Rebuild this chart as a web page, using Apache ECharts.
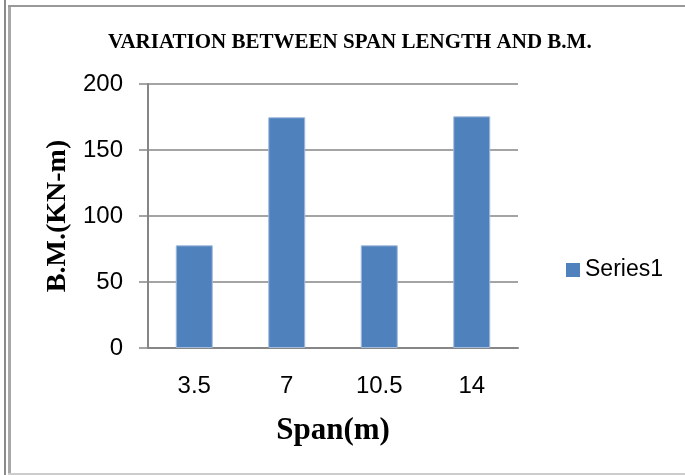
<!DOCTYPE html>
<html>
<head>
<meta charset="utf-8">
<script src="https://cdn.jsdelivr.net/npm/echarts@6/dist/echarts.min.js"></script>
<style>
html,body{margin:0;padding:0;background:#fff;}
#c{width:685px;height:475px;}
</style>
</head>
<body>
<div id="c"></div>
<script>
var categories = ['3.5', '7', '10.5', '14'];
var series1 = [77.8, 174.8, 77.8, 175.5];
var yTicks = [0, 50, 100, 150, 200];
var titleText = 'VARIATION BETWEEN SPAN LENGTH AND B.M.';
var xName = 'Span(m)';
var yName = 'B.M.(KN-m)';
var seriesName = 'Series1';

var narrow = "'Liberation Sans Narrow', 'Arial Narrow', 'Liberation Sans', sans-serif";
var serif = "'Liberation Serif', 'Times New Roman', serif";

var chart = echarts.init(document.getElementById('c'), null, {renderer: 'canvas'});
chart.setOption({
  animation: false,
  backgroundColor: '#ffffff',
  title: {
    text: titleText,
    left: 103,
    top: 27,
    textStyle: {fontFamily: serif, fontWeight: 'bold', fontSize: 21, color: '#000'}
  },
  legend: {
    data: [seriesName],
    left: 561,
    top: 252,
    icon: 'rect',
    itemWidth: 14,
    itemHeight: 14,
    itemStyle: {borderWidth: 0},
    textStyle: {fontFamily: narrow, fontSize: 23, color: '#000', lineHeight: 26}
  },
  grid: {left: 148, right: 167, top: 84, bottom: 127, containLabel: false},
  xAxis: {
    type: 'category',
    data: categories,
    name: xName,
    nameLocation: 'middle',
    nameGap: 67,
    nameTextStyle: {fontFamily: serif, fontWeight: 'bold', fontSize: 31, color: '#000'},
    axisLine: {lineStyle: {color: '#868686', width: 2}},
    axisTick: {show: false},
    axisLabel: {fontFamily: narrow, fontSize: 24, color: '#000', margin: 26}
  },
  yAxis: {
    type: 'value',
    min: yTicks[0],
    max: yTicks[yTicks.length - 1],
    interval: 50,
    name: yName,
    nameLocation: 'middle',
    nameRotate: 90,
    nameGap: 75,
    nameTextStyle: {fontFamily: serif, fontWeight: 'bold', fontSize: 28, color: '#000'},
    axisLine: {show: true, lineStyle: {color: '#868686', width: 2}},
    axisTick: {show: true, inside: false, length: 9, lineStyle: {color: '#868686', width: 1.5}},
    axisLabel: {fontFamily: narrow, fontSize: 24, color: '#000', margin: 25},
    splitLine: {show: true, lineStyle: {color: '#868686', width: 1.5}}
  },
  series: [{
    name: seriesName,
    type: 'bar',
    data: series1,
    barCategoryGap: '60%',
    itemStyle: {color: '#4F81BD', borderColor: '#a3bbdd', borderWidth: 1}
  }],
  graphic: [
    {type: 'rect', shape: {x: 4, y: 0, width: 2, height: 475}, style: {fill: '#8a8a8a'}, silent: true},
    {type: 'rect', shape: {x: 8, y: 5, width: 3, height: 470}, style: {fill: '#a8a8a8'}, silent: true},
    {type: 'rect', shape: {x: 8, y: 5, width: 677, height: 2}, style: {fill: '#999999'}, silent: true},
    {type: 'rect', shape: {x: 8, y: 473, width: 677, height: 2}, style: {fill: '#cccccc'}, silent: true}
  ]
});
</script>
</body>
</html>
